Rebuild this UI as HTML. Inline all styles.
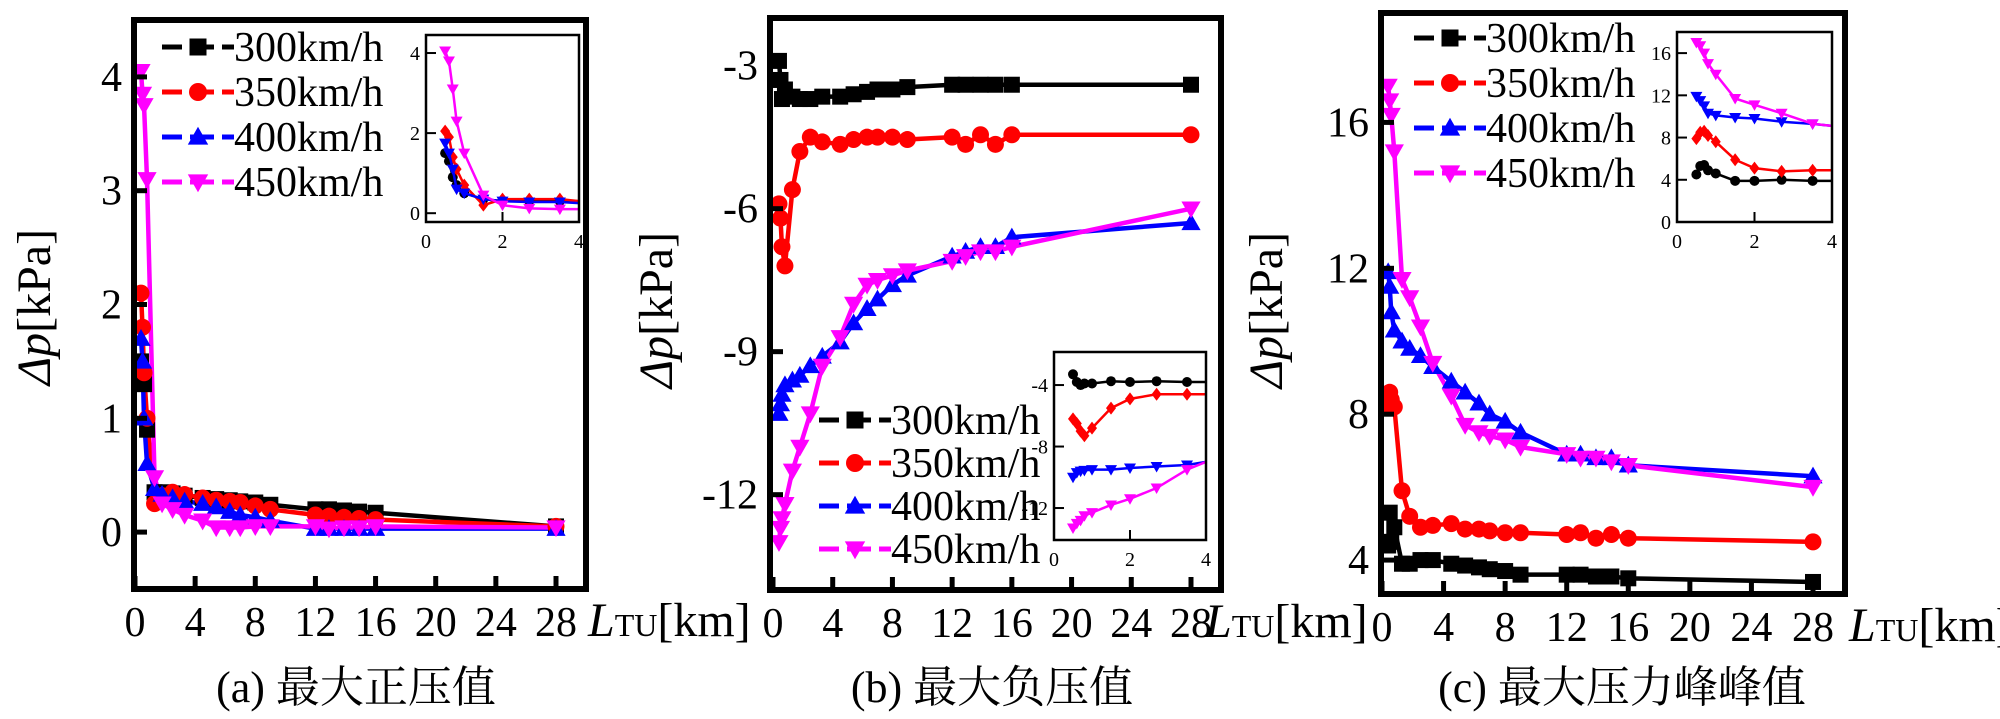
<!DOCTYPE html>
<html><head><meta charset="utf-8"><style>
html,body{margin:0;padding:0;background:#fff;}
svg{display:block;}
.t{font-family:"Liberation Serif","Times New Roman",Times,"DejaVu Serif","Noto Serif CJK SC",serif;fill:#000;}
</style></head><body>
<svg id="fig" width="2000" height="719" viewBox="0 0 2000 719" xmlns="http://www.w3.org/2000/svg"></svg>
<script>
const NS="http://www.w3.org/2000/svg";
const SPEEDS=["300km/h","350km/h","400km/h","450km/h"];
const COLORS=["#000000","#ff0000","#0000ff","#ff00ff"];
const X_MAIN=[0.4,0.5,0.6,0.8,1.3,1.8,2.5,3.3,4.5,5.4,6.3,7,8,9,12,12.9,13.9,14.9,16,28];
const X_INSET=[0.5,0.6,0.7,0.8,1.0,1.5,2.0,2.7,3.5,4.0];
const X_TICKS=[0,4,8,12,16,20,24,28];
const INSET_X_TICKS=[0,2,4];
// panel a
const A_300=[1.5,1.35,1.3,0.9,0.35,0.35,0.34,0.32,0.3,0.29,0.28,0.27,0.26,0.24,0.2,0.2,0.19,0.18,0.17,0.05];
const A_350=[2.1,1.8,1.4,1.0,0.25,0.32,0.35,0.33,0.3,0.28,0.27,0.26,0.23,0.2,0.15,0.14,0.13,0.12,0.11,0.05];
const A_400=[1.7,1.5,1.0,0.6,0.38,0.33,0.3,0.27,0.25,0.22,0.18,0.15,0.13,0.1,0.03,0.03,0.03,0.03,0.03,0.03];
const A_450=[4.05,3.85,3.75,3.1,0.48,0.25,0.2,0.15,0.1,0.04,0.04,0.04,0.05,0.05,0.05,0.03,0.04,0.04,0.05,0.04];
const A_Y_TICKS=[0,1,2,3,4];
const AI_300=[1.5,1.3,0.9,0.7,0.5,0.35,0.3,0.3,0.3,0.3];
const AI_350=[2.05,1.9,1.4,1.1,0.7,0.2,0.35,0.35,0.35,0.3];
const AI_400=[1.75,1.5,1.1,0.6,0.5,0.35,0.3,0.28,0.28,0.25];
const AI_450=[4.05,3.8,3.1,2.3,1.5,0.45,0.2,0.12,0.1,0.1];
const AI_Y_TICKS=[0,2,4];
// panel b
const B_300=[-2.9,-3.3,-3.7,-3.5,-3.65,-3.7,-3.7,-3.65,-3.65,-3.6,-3.55,-3.5,-3.5,-3.45,-3.4,-3.4,-3.4,-3.4,-3.4,-3.4];
const B_350=[-5.9,-6.2,-6.8,-7.2,-5.6,-4.8,-4.5,-4.6,-4.65,-4.55,-4.5,-4.5,-4.5,-4.55,-4.5,-4.65,-4.45,-4.65,-4.45,-4.45];
const B_400=[-10.3,-10.1,-9.9,-9.7,-9.6,-9.5,-9.3,-9.1,-8.8,-8.4,-8.1,-7.9,-7.6,-7.4,-7.0,-6.9,-6.8,-6.8,-6.6,-6.3];
const B_450=[-13.0,-12.7,-12.5,-12.2,-11.5,-11.0,-10.3,-9.3,-8.7,-8.0,-7.6,-7.5,-7.4,-7.3,-7.1,-7.0,-6.9,-6.9,-6.8,-6.0];
const B_Y_TICKS=[-12,-9,-6,-3];
const BI_300=[-3.3,-3.8,-4.0,-3.9,-3.9,-3.75,-3.8,-3.75,-3.8,-3.8];
const BI_350=[-6.2,-6.5,-7.0,-7.3,-6.8,-5.5,-4.9,-4.6,-4.6,-4.6];
const BI_400=[-10.0,-9.7,-9.6,-9.55,-9.5,-9.5,-9.4,-9.3,-9.2,-9.0];
const BI_450=[-13.3,-13.0,-12.8,-12.5,-12.3,-11.8,-11.4,-10.7,-9.5,-9.0];
const BI_Y_TICKS=[-12,-8,-4];
// panel c
const C_300=[4.4,5.3,4.5,4.9,3.9,3.9,4.0,4.0,3.9,3.85,3.8,3.75,3.7,3.6,3.6,3.6,3.55,3.55,3.5,3.4];
const C_350=[8.2,8.6,8.4,8.2,5.9,5.2,4.9,4.95,5.0,4.85,4.85,4.8,4.75,4.75,4.7,4.75,4.6,4.7,4.6,4.5];
const C_400=[11.9,11.5,10.8,10.3,10.0,9.8,9.6,9.3,8.9,8.6,8.3,8.0,7.8,7.5,6.9,6.9,6.8,6.8,6.6,6.3];
const C_450=[17.0,16.6,16.2,15.2,11.7,11.2,10.4,9.4,8.5,7.7,7.5,7.4,7.3,7.1,6.9,6.8,6.8,6.7,6.6,6.0];
const C_Y_TICKS=[4,8,12,16];
const CI_300=[4.5,5.3,5.4,4.9,4.6,3.9,3.9,4.0,3.9,3.9];
const CI_350=[7.9,8.5,8.6,8.2,7.6,5.9,5.1,4.8,4.9,4.9];
const CI_400=[11.9,11.5,11.0,10.3,10.1,9.9,9.8,9.5,9.3,9.1];
const CI_450=[17.0,16.7,16.0,15.0,14.0,11.7,11.1,10.3,9.3,9.1];
const CI_Y_TICKS=[0,4,8,12,16];

const svg=document.getElementById('fig');
function el(tag,attrs,parent){const e=document.createElementNS(NS,tag);for(const k in attrs)e.setAttribute(k,attrs[k]);if(tag==='text')e.setAttribute('class','t');(parent||svg).appendChild(e);return e;}
function marker(g,shape,cx,cy,s,color){
  let m;
  if(shape==='square'){m=el('rect',{x:cx-s/2,y:cy-s/2,width:s,height:s,fill:color},g);}
  else if(shape==='circle'){m=el('circle',{cx:cx,cy:cy,r:s/2,fill:color},g);}
  else if(shape==='up'){m=el('polygon',{points:`${cx},${cy-s*0.6} ${cx-s*0.6},${cy+s*0.45} ${cx+s*0.6},${cy+s*0.45}`,fill:color},g);}
  else if(shape==='down'){m=el('polygon',{points:`${cx},${cy+s*0.6} ${cx-s*0.6},${cy-s*0.45} ${cx+s*0.6},${cy-s*0.45}`,fill:color},g);}
  else {m=el('polygon',{points:`${cx},${cy-s*0.65} ${cx+s*0.5},${cy} ${cx},${cy+s*0.65} ${cx-s*0.5},${cy}`,fill:color},g);}
  
  
  return m;
}
const MAIN_SHAPES=['square','circle','up','down'];
const INSET_SHAPES=['circle','diamond','down','down'];

function panel(cfg){
  const g=el('g',{});
  
  
  const sx=v=>cfg.x0+(v-0)*(cfg.x28-cfg.x0)/28;
  const sy=v=>cfg.yb+(v-cfg.ymin)*(cfg.yt-cfg.yb)/(cfg.ymax-cfg.ymin);
  const cid='clip-'+cfg.id;
  const cp=el('clipPath',{id:cid},g);el('rect',{x:cfg.L,y:cfg.T,width:cfg.R-cfg.L,height:cfg.B-cfg.T},cp);
  const dg=el('g',{'clip-path':`url(#${cid})`},g);
  
  
  cfg.series.forEach((vals,si)=>{
    const pts=X_MAIN.map((x,i)=>`${sx(x)},${sy(vals[i])}`).join(' ');
    const pl=el('polyline',{points:pts,fill:'none',stroke:COLORS[si],'stroke-width':4.5,'stroke-linejoin':'round'},dg);
    
    
  });
  cfg.series.forEach((vals,si)=>{
    X_MAIN.forEach((x,i)=>marker(dg,MAIN_SHAPES[si],sx(x),sy(vals[i]),MAIN_SHAPES[si]==='circle'?17:16,COLORS[si]));
  });
  const fr=el('rect',{x:cfg.L,y:cfg.T,width:cfg.R-cfg.L,height:cfg.B-cfg.T,fill:'none',stroke:'#000','stroke-width':6},g);
  
  
  X_TICKS.forEach(t=>{
    const x=sx(t);
    el('line',{x1:x,x2:x,y1:cfg.B,y2:cfg.B-13,stroke:'#000','stroke-width':5},g);
    const tx=el('text',{x:x,y:cfg.B+47,'font-size':42,'text-anchor':'middle'},g);tx.textContent=t;
    
    
  });
  cfg.yticks.forEach(t=>{
    const y=sy(t);
    el('line',{x1:cfg.L,x2:cfg.L+13,y1:y,y2:y,stroke:'#000','stroke-width':5},g);
    const tx=el('text',{x:cfg.L-12,y:y+14,'font-size':42,'text-anchor':'end'},g);tx.textContent=t;
    
    
  });
  const yl=el('text',{x:0,y:0,'font-size':48,'text-anchor':'middle',transform:`translate(${cfg.ylx},${cfg.yly}) rotate(-90)`},g);
  yl.innerHTML='<tspan font-style="italic">Δp</tspan>[kPa]';
  
  
  const xl=el('text',{x:cfg.xlx,y:cfg.B+47,'font-size':48},g);
  xl.innerHTML='<tspan font-style="italic">L</tspan><tspan font-size="32">TU</tspan>[km]';
  
  
  const cap=el('text',{x:cfg.capx,y:702,'font-size':44,'text-anchor':'middle'},g);
  cap.textContent=cfg.caption;
  
  
  const lg=el('g',{},g);
  
  
  SPEEDS.forEach((s,si)=>{
    const y=cfg.legY+si*cfg.legDy;
    const e=el('g',{},lg);
    
    
    el('line',{x1:cfg.legX,x2:cfg.legX+72,y1:y,y2:y,stroke:COLORS[si],'stroke-width':5,'stroke-dasharray':'20 8 24 8 20'},e);
    marker(e,MAIN_SHAPES[si],cfg.legX+36,y,MAIN_SHAPES[si]==='circle'?18:17,COLORS[si]);
    const t=el('text',{x:cfg.legX+72,y:y+14,'font-size':42},e);t.textContent=s;
  });
  const I=cfg.inset;
  const ig=el('g',{},g);
  
  
  const ix=v=>I.L+v*(I.R-I.L)/4;
  const iy=v=>I.B+(v-I.ymin)*(I.T-I.B)/(I.ymax-I.ymin);
  el('rect',{x:I.L,y:I.T,width:I.R-I.L,height:I.B-I.T,fill:'#fff'},ig);
  const icid='iclip-'+cfg.id;
  const icp=el('clipPath',{id:icid},ig);el('rect',{x:I.L,y:I.T,width:I.R-I.L,height:I.B-I.T},icp);
  const idg=el('g',{'clip-path':`url(#${icid})`},ig);
  I.series.forEach((vals,si)=>{
    const pts=X_INSET.map((x,i)=>`${ix(x)},${iy(vals[i])}`).join(' ');
    const pl=el('polyline',{points:pts,fill:'none',stroke:COLORS[si],'stroke-width':2.5},idg);
    
    
    X_INSET.forEach((x,i)=>{ if(i<X_INSET.length-1) marker(idg,INSET_SHAPES[si],ix(x),iy(vals[i]),10,COLORS[si]); });
  });
  el('rect',{x:I.L,y:I.T,width:I.R-I.L,height:I.B-I.T,fill:'none',stroke:'#000','stroke-width':2.5},ig);
  INSET_X_TICKS.forEach(t=>{
    el('line',{x1:ix(t),x2:ix(t),y1:I.B,y2:I.B-10,stroke:'#000','stroke-width':2},ig);
    const tx=el('text',{x:ix(t),y:I.B+26,'font-size':20,'text-anchor':'middle'},ig);tx.textContent=t;
    
    
  });
  I.yticks.forEach(t=>{
    el('line',{x1:I.L,x2:I.L+10,y1:iy(t),y2:iy(t),stroke:'#000','stroke-width':2},ig);
    const tx=el('text',{x:I.L-6,y:iy(t)+7,'font-size':20,'text-anchor':'end'},ig);tx.textContent=t;
    
    
  });
}

panel({id:'a',L:134,R:586,T:20,B:589,x0:135,x28:556,ymin:-0.5,ymax:4.5,yb:589,yt:20,
  series:[A_300,A_350,A_400,A_450],yticks:A_Y_TICKS,ylx:50,yly:307,xlx:588,capx:356,caption:'(a)  最大正压值',
  legX:162,legY:47,legDy:45,
  inset:{L:426,R:579,T:35,B:222,ymin:-0.22,ymax:4.45,yticks:AI_Y_TICKS,series:[AI_300,AI_350,AI_400,AI_450]}});
panel({id:'b',L:770,R:1221,T:18,B:590,x0:773,x28:1191,ymin:-14,ymax:-2,yb:590,yt:18,
  series:[B_300,B_350,B_400,B_450],yticks:B_Y_TICKS,ylx:672,yly:310,xlx:1205,capx:992,caption:'(b)  最大负压值',
  legX:819,legY:420,legDy:43,
  inset:{L:1054,R:1206,T:352,B:540,ymin:-14.08,ymax:-1.85,yticks:BI_Y_TICKS,series:[BI_300,BI_350,BI_400,BI_450]}});
panel({id:'c',L:1381,R:1845,T:13,B:594,x0:1382,x28:1813,ymin:3.07,ymax:19,yb:594,yt:13,
  series:[C_300,C_350,C_400,C_450],yticks:C_Y_TICKS,ylx:1282,yly:310,xlx:1849,capx:1622,caption:'(c)  最大压力峰峰值',
  legX:1414,legY:38,legDy:45,
  inset:{L:1677,R:1832,T:32,B:222,ymin:0,ymax:18,yticks:CI_Y_TICKS,series:[CI_300,CI_350,CI_400,CI_450]}});
</script>
</body></html>
